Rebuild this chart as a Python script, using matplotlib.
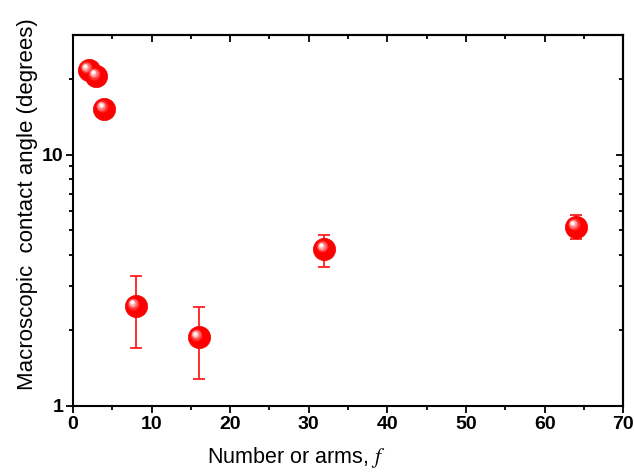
import matplotlib.pyplot as plt
import matplotlib.transforms as mtransforms
from matplotlib.ticker import FixedLocator, NullFormatter

plt.rcParams['font.family'] = ['Liberation Sans', 'DejaVu Sans']
plt.rcParams['mathtext.fontset'] = 'stix'

# number of arms and contact angle
arms = [2, 3, 4, 8, 16, 32, 64]
angle = [21.8, 20.6, 15.3, 2.50, 1.88, 4.22, 5.17]
err_lo = [0, 0, 0, 0.80, 0.60, 0.64, 0.54]
err_hi = [0, 0, 0, 0.80, 0.60, 0.58, 0.60]

fig = plt.figure(figsize=(6.34, 4.74), dpi=100)
ax = fig.add_axes([0.115, 0.1435, 0.868, 0.7825])

ax.errorbar(arms[3:], angle[3:], yerr=[err_lo[3:], err_hi[3:]], fmt='none',
            ecolor='#ff2020', elinewidth=1.3, capsize=4, capthick=1.3, zorder=2)

# shaded sphere markers
ax.plot(arms, angle, 'o', ms=16, color='#ff0000', mec='#f00000', mew=0.5, zorder=3)
shades = [(8.5, '#ff3030', 1.8), (6.5, '#ff6a6a', 2.1), (4.8, '#ffa8a8', 2.4),
          (3.2, '#ffe0e0', 2.6), (2.0, '#ffffff', 2.7)]
for ms, c, off in shades:
    tr = mtransforms.offset_copy(ax.transData, fig=fig, x=-off, y=off, units='points')
    ax.plot(arms, angle, 'o', ms=ms, color=c, mew=0, transform=tr, zorder=4)

ax.set_yscale('log')
ax.set_xlim(0, 70)
ax.set_ylim(1, 30)

ax.xaxis.set_major_locator(FixedLocator([0, 10, 20, 30, 40, 50, 60, 70]))
ax.xaxis.set_minor_locator(FixedLocator([5, 15, 25, 35, 45, 55, 65]))
ax.yaxis.set_major_locator(FixedLocator([1, 10]))
ax.yaxis.set_minor_locator(FixedLocator([2, 3, 4, 5, 6, 7, 8, 9, 20]))
ax.yaxis.set_minor_formatter(NullFormatter())
ax.set_yticklabels(['1', '10'])

for lab in ax.get_xticklabels() + ax.get_yticklabels():
    lab.set_fontweight('bold')
ax.tick_params(which='major', direction='out', length=5, width=1.3, labelsize=14, pad=2)
ax.tick_params(which='minor', direction='out', length=3, width=1.3)

# inward ticks on top and right
top = ax.secondary_xaxis('top')
top.xaxis.set_major_locator(FixedLocator([0, 10, 20, 30, 40, 50, 60, 70]))
top.xaxis.set_minor_locator(FixedLocator([5, 15, 25, 35, 45, 55, 65]))
top.tick_params(which='both', direction='in', length=5, width=1.3, labeltop=False)
top.tick_params(which='minor', length=3)
right = ax.secondary_yaxis('right')
right.yaxis.set_major_locator(FixedLocator([1, 10]))
right.yaxis.set_minor_locator(FixedLocator([2, 3, 4, 5, 6, 7, 8, 9, 20]))
right.yaxis.set_minor_formatter(NullFormatter())
right.tick_params(which='both', direction='in', length=5, width=1.3, labelright=False)
right.tick_params(which='minor', length=3)

for s in list(ax.spines.values()) + [top.spines['top'], right.spines['right']]:
    s.set_linewidth(1.5)

ax.set_xlabel('Number or arms, $f$', fontsize=15.5)
ax.set_ylabel('Macroscopic  contact angle (degrees)', fontsize=16)
ax.xaxis.set_label_coords(0.405, -0.105)
ax.yaxis.set_label_coords(-0.064, 0.545)

fig.savefig('out.png', dpi=100)
